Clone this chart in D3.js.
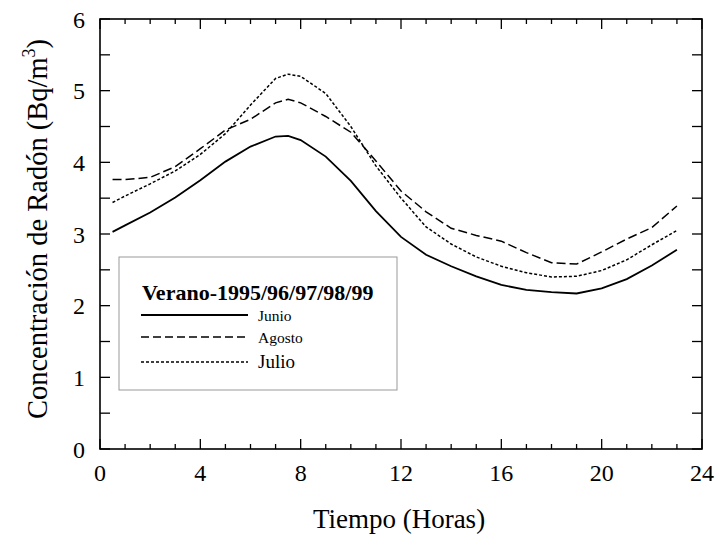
<!DOCTYPE html>
<html><head><meta charset="utf-8">
<script src="https://cdn.jsdelivr.net/npm/d3@7"></script>
<style>body{margin:0;background:#fff}svg{display:block}</style>
</head><body>
<script>
const hours = [0.5,1,2,3,4,5,6,7,7.5,8,9,10,11,12,13,14,15,16,17,18,19,20,21,22,23];
const junio  = [3.03,3.12,3.30,3.51,3.75,4.01,4.22,4.36,4.37,4.31,4.08,3.74,3.32,2.96,2.71,2.55,2.41,2.29,2.22,2.19,2.17,2.24,2.37,2.56,2.78];
const agosto = [3.76,3.76,3.79,3.94,4.19,4.45,4.60,4.83,4.88,4.83,4.64,4.42,4.02,3.60,3.31,3.08,2.98,2.90,2.74,2.60,2.58,2.75,2.93,3.09,3.39];
const julio  = [3.44,3.53,3.70,3.88,4.11,4.40,4.80,5.17,5.23,5.20,4.96,4.50,3.95,3.50,3.10,2.86,2.68,2.55,2.46,2.40,2.41,2.49,2.64,2.85,3.05];
const seriesNames = ["Junio","Agosto","Julio"];
const xTickLabels = [0,4,8,12,16,20,24];
const yTickLabels = [0,1,2,3,4,5,6];
const legendTitle = "Verano-1995/96/97/98/99";
const xTitle = "Tiempo (Horas)";
const yTitleMain = "Concentración de Radón (Bq/m";

const W=716,H=538;
const m={l:100,r:14,t:19,b:89};
const svg=d3.select("body").append("svg").attr("width",W).attr("height",H);
const x=d3.scaleLinear().domain([0,24]).range([m.l,W-m.r]);
const y=d3.scaleLinear().domain([0,6]).range([H-m.b,m.t]);
const serif="'Liberation Serif','Times New Roman',serif";

// ticks (inward)
const g=svg.append("g");
const minorX=d3.range(0,25,1), yt=d3.range(0,6.01,0.5);
minorX.forEach(h=>{
  const L = h%4===0?10:5;
  g.append("line").attr("x1",x(h)).attr("x2",x(h)).attr("y1",y(0)).attr("y2",y(0)-L).attr("stroke","#000").attr("stroke-width",1.3);
  g.append("line").attr("x1",x(h)).attr("x2",x(h)).attr("y1",y(6)).attr("y2",y(6)+L).attr("stroke","#000").attr("stroke-width",1.3);
});
yt.forEach(v=>{
  g.append("line").attr("x1",x(0)).attr("x2",x(0)+10).attr("y1",y(v)).attr("y2",y(v)).attr("stroke","#000").attr("stroke-width",1.3);
  g.append("line").attr("x1",x(24)).attr("x2",x(24)-10).attr("y1",y(v)).attr("y2",y(v)).attr("stroke","#000").attr("stroke-width",1.3);
});
svg.append("rect").attr("x",x(0)).attr("y",y(6)).attr("width",x(24)-x(0)).attr("height",y(0)-y(6))
  .attr("fill","none").attr("stroke","#000").attr("stroke-width",1.6);

// tick labels
xTickLabels.forEach(v=>{
  svg.append("text").attr("x",x(v)).attr("y",481)
    .attr("text-anchor","middle").attr("font-family",serif).attr("font-size",24).attr("fill","#000").text(v);
});
yTickLabels.forEach(v=>{
  svg.append("text").attr("x",85).attr("y",y(v)+8.5)
    .attr("text-anchor","end").attr("font-family",serif).attr("font-size",24).attr("fill","#000").text(v);
});

// axis titles
svg.append("text").attr("x",(x(0)+x(24))/2-2).attr("y",528)
  .attr("text-anchor","middle").attr("font-family",serif).attr("font-size",27).attr("fill","#000").text(xTitle);
const yt1=svg.append("text").attr("transform",`translate(47,229) rotate(-90)`)
  .attr("text-anchor","middle").attr("font-family",serif).attr("font-size",28.5).attr("fill","#000");
yt1.append("tspan").text(yTitleMain);
yt1.append("tspan").attr("font-size",18).attr("dy",-12).text("3");
yt1.append("tspan").attr("dy",12).text(")");

// lines
const styles=[{w:1.8,d:null},{w:1.5,d:"9,4"},{w:1.5,d:"3,2"}];
const data=[junio,agosto,julio];
const line=d3.line().x((d,i)=>x(hours[i])).y(d=>y(d));
data.forEach((s,k)=>{
  svg.append("path").attr("d",line(s)).attr("fill","none").attr("stroke","#000")
    .attr("stroke-width",styles[k].w).attr("stroke-dasharray",styles[k].d);
});

// legend
svg.append("rect").attr("x",119).attr("y",257).attr("width",278).attr("height",133)
  .attr("fill","#fff").attr("stroke","#999").attr("stroke-width",1);
svg.append("text").attr("x",142).attr("y",300).attr("font-family",serif).attr("font-weight","bold")
  .attr("font-size",22).attr("fill","#000").text(legendTitle);
const ly=[315,337,362], ls=[15.5,15.5,19], lt=[321,343,368];
seriesNames.forEach((n,k)=>{
  svg.append("line").attr("x1",141).attr("x2",248).attr("y1",ly[k]).attr("y2",ly[k])
    .attr("stroke","#000").attr("stroke-width",k===0?1.8:1.4).attr("stroke-dasharray",k===1?"8,4":(k===2?"3,2":null));
  svg.append("text").attr("x",258).attr("y",lt[k]).attr("font-family",serif).attr("font-size",ls[k]).attr("fill","#000").text(n);
});
</script>
</body></html>
